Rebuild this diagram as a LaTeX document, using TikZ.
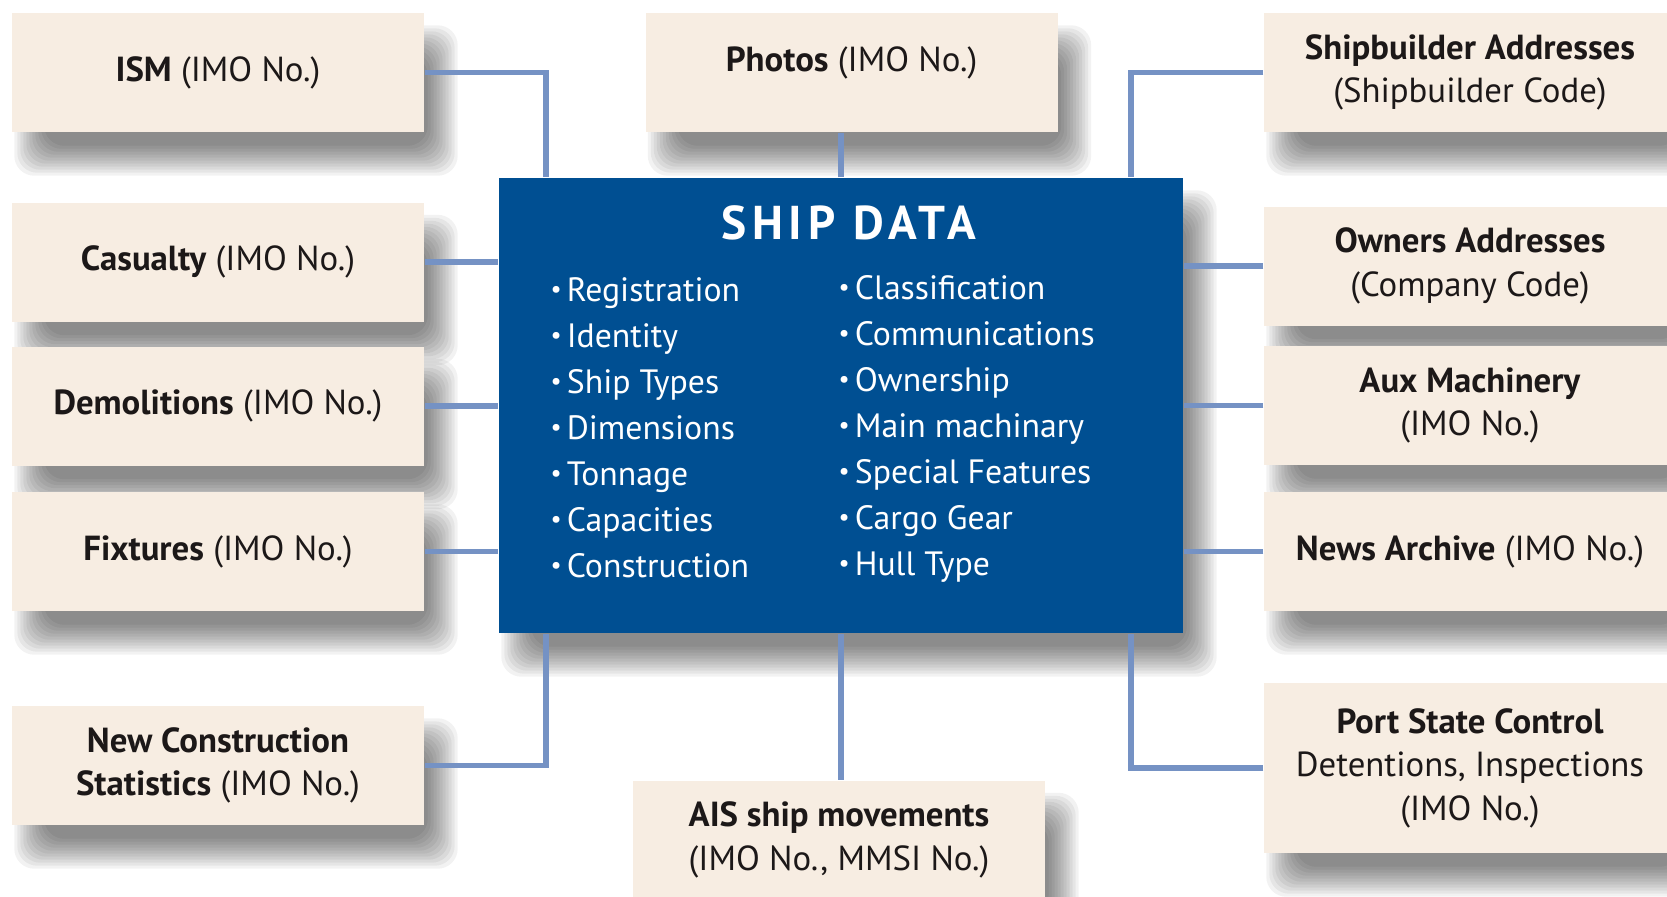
\documentclass[tikz,border=0pt]{standalone}
\usepackage{fontspec}
\setmainfont{PT Sans}
\newfontfamily\spacedfont[LetterSpace=12]{PT Sans}
\definecolor{shipblue}{RGB}{0,79,146}
\definecolor{sand}{RGB}{247,237,226}
\definecolor{wire}{RGB}{117,146,196}
\definecolor{ink}{RGB}{28,24,24}
\pgfdeclarelayer{paper}
\pgfdeclarelayer{shade}
\pgfsetlayers{paper,shade,main}
\newcommand{\blt}{\raisebox{0.25ex}{\scriptsize\textbullet}\hspace{0.15em}}
\tikzset{
        src/.style={fill=sand, text=ink, minimum width=4.12cm, minimum height=1.19cm, align=center, inner sep=0pt, font=\fontsize{9.9}{12.4}\selectfont},
        link/.style={wire, line width=1.6pt},
        items/.style={text=white, align=left, anchor=west, inner sep=0pt, font=\fontsize{9.6}{13.1}\selectfont},
        haze/.style={black, opacity=0.05, rounded corners=2mm}
}
\begin{document}
\begin{tikzpicture}
        \clip (0,0) rectangle (16.67,-8.97);
        \begin{pgfonlayer}{paper}
        \fill[white] (0,0) rectangle (16.67,-8.97);
        \end{pgfonlayer}
        \coordinate (ljoin) at (5.46,0);
        \coordinate (rjoin) at (11.31,0);
        \node[src] (ism) at (2.18,-0.725) {\textbf{ISM} (IMO No.)};
        \node[src] (casualty) at (2.18,-2.62) {\textbf{Casualty} (IMO No.)};
        \node[src] (demolitions) at (2.18,-4.06) {\textbf{Demolitions} (IMO No.)};
        \node[src] (fixtures) at (2.18,-5.515) {\textbf{Fixtures} (IMO No.)};
        \node[src] (newcons) at (2.18,-7.655) {\textbf{New Construction}\\\textbf{Statistics} (IMO No.)};
        \node[src, text depth=7.7pt, text height=7.4pt] (photos) at (8.515,-0.725) {\textbf{Photos} (IMO No.)};
        \node[src] (ais) at (8.39,-8.4) {\textbf{AIS ship movements}\\(IMO No., MMSI No.)};
        \node[src] (shipb) at (14.70,-0.725) {\textbf{Shipbuilder Addresses}\\(Shipbuilder Code)};
        \node[src] (owners) at (14.70,-2.66) {\textbf{Owners Addresses}\\(Company Code)};
        \node[src] (aux) at (14.70,-4.055) {\textbf{Aux Machinery}\\(IMO No.)};
        \node[src] (news) at (14.70,-5.515) {\textbf{News Archive} (IMO No.)};
        \node[src, minimum height=1.70cm] (port) at (14.70,-7.68) {\textbf{Port State Control}\\Detentions, Inspections\\(IMO No.)};
        \node[fill=shipblue, minimum width=6.84cm, minimum height=4.55cm] (core) at (8.41,-4.055) {};
        \node[text=white, font=\spacedfont\bfseries\fontsize{13.5}{14}\selectfont] (title) at (8.49,-2.23) {SHIP DATA};
        \node[items] (colA) at (5.50,-4.28) {\blt Registration\\\blt Identity\\\blt Ship Types\\\blt Dimensions\\\blt Tonnage\\\blt Capacities\\\blt Construction};
        \node[items] (colB) at (8.38,-4.29) {\blt Classification\\\blt Communications\\\blt Ownership\\\blt Main machinary\\\blt Special Features\\\blt Cargo Gear\\\blt Hull Type};
        \begin{pgfonlayer}{shade}
        \foreach \n in {ism,casualty,demolitions,fixtures,newcons,photos,ais,shipb,owners,aux,news,port,core}
        \foreach \k in {0,...,10} {
                \pgfmathsetmacro\xa{0.18+0.15-0.03*\k}
                \pgfmathsetmacro\ya{-0.28+0.15-0.03*\k}
                \pgfmathsetmacro\xb{0.18-0.15+0.03*\k}
                \pgfmathsetmacro\yb{-0.28-0.15+0.03*\k}
                \fill[haze] ([xshift=\xa cm, yshift=\ya cm]\n.south west) rectangle ([xshift=\xb cm, yshift=\yb cm]\n.north east);
        }
        \end{pgfonlayer}
        \draw[link] (ism.east) -| (ljoin |- core.north);
        \draw[link] (casualty.east) -- (casualty.east -| core.west);
        \draw[link] (demolitions.east) -- (demolitions.east -| core.west);
        \draw[link] (fixtures.east) -- (fixtures.east -| core.west);
        \draw[link] (newcons.east) -| (ljoin |- core.south);
        \draw[link] (core.north) -- (core.north |- photos.south);
        \draw[link] (core.south) -- (core.south |- ais.north);
        \draw[link] (shipb.west) -| (rjoin |- core.north);
        \draw[link] (owners.west) -- (owners.west -| core.east);
        \draw[link] (aux.west) -- (aux.west -| core.east);
        \draw[link] (news.west) -- (news.west -| core.east);
        \draw[link] (port.west) -| (rjoin |- core.south);
\end{tikzpicture}
\end{document}
